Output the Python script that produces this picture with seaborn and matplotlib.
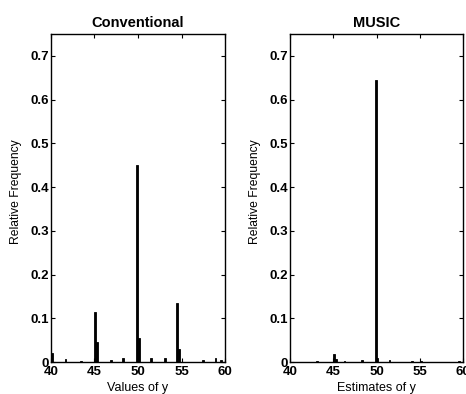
import matplotlib
matplotlib.use("Agg")
import matplotlib.pyplot as plt
import seaborn as sns
import pandas as pd

sns.set_style("ticks")
plt.rcParams['font.family'] = ['Liberation Sans', 'DejaVu Sans']
plt.rcParams['text.color'] = 'black'
plt.rcParams['axes.labelcolor'] = 'black'
plt.rcParams['xtick.color'] = 'black'
plt.rcParams['ytick.color'] = 'black'

# Conventional estimator: values of y and relative frequencies
conv_x = [40.05, 41.7, 43.5, 45.15, 45.35, 46.8, 48.3, 49.95, 50.15, 51.5, 53.0, 54.45, 54.65, 57.5, 58.8, 59.5]
conv_f = [0.02, 0.006, 0.003, 0.115, 0.045, 0.005, 0.01, 0.45, 0.055, 0.01, 0.01, 0.135, 0.03, 0.005, 0.01, 0.004]

# MUSIC estimator
music_x = [43.0, 45.05, 45.25, 46.2, 48.3, 49.95, 50.15, 51.5, 54.0, 55.0, 59.5]
music_f = [0.002, 0.018, 0.006, 0.003, 0.004, 0.645, 0.01, 0.004, 0.002, 0.002, 0.002]

titles = ["Conventional", "MUSIC"]
xlabels = ["Values of y", "Estimates of y"]
xticks = [40, 45, 50, 55, 60]
yticks = [0, 0.1, 0.2, 0.3, 0.4, 0.5, 0.6, 0.7]
ytick_labels = ["0", "0.1", "0.2", "0.3", "0.4", "0.5", "0.6", "0.7"]

fig = plt.figure(figsize=(4.66, 3.94), dpi=100)
ax1 = fig.add_axes([0.109, 0.081, 0.374, 0.833])
ax2 = fig.add_axes([0.622, 0.081, 0.372, 0.833])

for ax, xs, fs, t, xl in zip([ax1, ax2], [conv_x, music_x], [conv_f, music_f], titles, xlabels):
    df = pd.DataFrame({"x": xs, "f": fs})
    sns.histplot(data=df, x="x", weights="f", binwidth=0.2, binrange=(40, 60),
                 color="black", edgecolor="black", linewidth=0.6, alpha=1, ax=ax)
    ax.set_xlim(40, 60)
    ax.set_ylim(0, 0.75)
    ax.set_xticks(xticks)
    ax.set_yticks(yticks)
    ax.set_yticklabels(ytick_labels)
    ax.tick_params(direction="in", top=True, right=True, length=3, width=0.8,
                   labelsize=9.5)
    ax.tick_params(axis="x", pad=3)
    ax.tick_params(axis="y", pad=1.5)
    for lab in ax.get_xticklabels() + ax.get_yticklabels():
        lab.set_fontweight("bold")
    for s in ax.spines.values():
        s.set_linewidth(1.0)
        s.set_color("black")
    ax.set_title(t, fontsize=10.5, fontweight="bold", pad=5)
    ax.set_xlabel(xl, fontsize=9, labelpad=3)
    ax.set_ylabel("Relative Frequency", fontsize=8.7, labelpad=3)
    ax.yaxis.set_label_coords(-0.165, 0.52)

fig.savefig("out.png", dpi=100)
